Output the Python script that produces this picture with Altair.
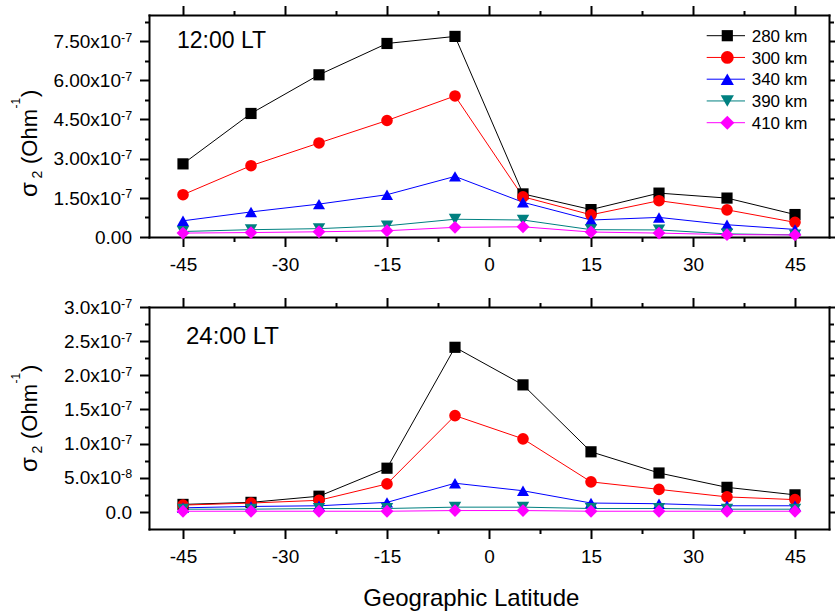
import altair as alt
import pandas as pd

# ---------------- data (sigma_2 values in units of 1e-7 Ohm^-1) ----------------
latitude = [-45, -35, -25, -15, -5, 5, 15, 25, 35, 45]
altitudes = ["280 km", "300 km", "340 km", "390 km", "410 km"]

noon_280 = [2.80, 4.73, 6.21, 7.41, 7.68, 1.65, 1.05, 1.68, 1.49, 0.86]
noon_300 = [1.62, 2.73, 3.60, 4.46, 5.40, 1.54, 0.85, 1.39, 1.04, 0.56]
noon_340 = [0.62, 0.96, 1.26, 1.62, 2.32, 1.33, 0.65, 0.75, 0.47, 0.29]
noon_390 = [0.21, 0.28, 0.32, 0.43, 0.68, 0.65, 0.28, 0.27, 0.12, 0.08]
noon_410 = [0.15, 0.17, 0.20, 0.24, 0.37, 0.39, 0.19, 0.15, 0.09, 0.08]

mid_280 = [0.11, 0.14, 0.23, 0.64, 2.41, 1.86, 0.88, 0.57, 0.36, 0.25]
mid_300 = [0.10, 0.13, 0.17, 0.41, 1.41, 1.07, 0.44, 0.33, 0.22, 0.18]
mid_340 = [0.06, 0.08, 0.09, 0.14, 0.42, 0.31, 0.13, 0.12, 0.09, 0.09]
mid_390 = [0.04, 0.04, 0.05, 0.05, 0.07, 0.07, 0.05, 0.05, 0.04, 0.04]
mid_410 = [0.01, 0.01, 0.01, 0.01, 0.02, 0.02, 0.01, 0.01, 0.01, 0.01]

colors = ["#000000", "#ff0000", "#0000ff", "#008080", "#ff00ff"]
shapes = ["square", "circle", "triangle-up", "triangle-down", "diamond"]
sizes = [125, 165, 175, 175, 200]

x_major = [-45, -30, -15, 0, 15, 30, 45]
x_minor = [-37.5, -22.5, -7.5, 7.5, 22.5, 37.5]

top_major = [0, 1.5e-7, 3.0e-7, 4.5e-7, 6.0e-7, 7.5e-7]
top_minor = [0.75e-7, 2.25e-7, 3.75e-7, 5.25e-7, 6.75e-7, 8.25e-7]
top_mant = ["0.00", "1.50x10", "3.00x10", "4.50x10", "6.00x10", "7.50x10"]
top_exp = ["", "-7", "-7", "-7", "-7", "-7"]

bot_major = [0, 0.5e-7, 1.0e-7, 1.5e-7, 2.0e-7, 2.5e-7, 3.0e-7]
bot_minor = [0.25e-7, 0.75e-7, 1.25e-7, 1.75e-7, 2.25e-7, 2.75e-7]
bot_mant = ["0.0", "5.0x10", "1.0x10", "1.5x10", "2.0x10", "2.5x10", "3.0x10"]
bot_exp = ["", "-8", "-7", "-7", "-7", "-7", "-7"]


def table(cols):
    rows = []
    for name, vals in zip(altitudes, cols):
        for la, v in zip(latitude, vals):
            rows.append({"lat": la, "val": v * 1e-7, "series": name})
    return pd.DataFrame(rows)


noon_df = table([noon_280, noon_300, noon_340, noon_390, noon_410])
mid_df = table([mid_280, mid_300, mid_340, mid_390, mid_410])

FONT = "Liberation Sans"
W, H = 680, 514
XS = alt.Scale(domain=[-50, 50], nice=False, zero=False)
YT = alt.Scale(domain=[0, 8.5e-7], range=[222, 0], nice=False, zero=False)
YB = alt.Scale(domain=[-0.25e-7, 3.0e-7], range=[514, 292], nice=False, zero=False)
color_scale = alt.Scale(domain=altitudes, range=colors)
shape_scale = alt.Scale(domain=altitudes, range=shapes)
size_scale = alt.Scale(domain=altitudes, range=sizes)

one = pd.DataFrame({"k": [0]})


def axis(orient, values, size, offset=0, labels=False, domain=True):
    kw = dict(orient=orient, values=values, tickSize=size, tickWidth=2,
              tickColor="black", domain=domain, grid=False, title=None,
              offset=offset, labels=labels)
    if domain:
        kw.update(domainColor="black", domainWidth=2, domainCap="square")
    if labels:
        kw.update(labelFont=FONT, labelFontSize=19, labelColor="black",
                  labelPadding=9, labelExpr="'' + datum.value",
                  labelOverlap=False, labelFlush=False)
    return alt.Axis(**kw)


def label(text, x, y, size, angle=0, align="left", baseline="alphabetic"):
    kw = dict(text=text, align=align, baseline=baseline, font=FONT,
              fontSize=size, color="black")
    if angle:
        kw["angle"] = angle
    return alt.Chart(one).mark_text(**kw).encode(x=alt.value(x), y=alt.value(y))


def y_title(s):
    bx = -112.5
    return [
        label("σ", bx, s, 24, angle=270),
        label("2", bx + 5, s - 18.5, 14, angle=270),
        label("(Ohm", bx, s - 33, 22, angle=270),
        label("-1", bx - 16.5, s - 88.5, 12, angle=270),
        label(")", bx, s - 100, 22, angle=270),
    ]


def panel(df, ys, ymaj, ymin, mant, exps, xoff_bottom, xoff_top):
    base = alt.Chart(df)
    col = alt.Color("series:N", scale=color_scale, legend=None)

    def ex(ax):
        return alt.X("lat:Q", scale=XS, axis=ax)

    def ey(ax):
        return alt.Y("val:Q", scale=ys, axis=ax)

    lines = base.mark_line(strokeWidth=1).encode(
        x=ex(axis("bottom", x_major, 9.5, offset=xoff_bottom, labels=True)),
        y=ey(axis("left", ymaj, 9.5)),
        color=col,
    )
    pts = base.mark_point(filled=True, opacity=1).encode(
        x=ex(axis("bottom", x_minor, 4.5, offset=xoff_bottom, domain=False)),
        y=ey(axis("left", ymin, 4.5, domain=False)),
        color=col,
        shape=alt.Shape("series:N", scale=shape_scale, legend=None),
        size=alt.Size("series:N", scale=size_scale, legend=None),
    )
    ghost1 = base.mark_point(opacity=0).encode(
        x=ex(axis("top", x_major, 9.5, offset=xoff_top)),
        y=ey(axis("right", ymaj, 9.5)),
    )
    ghost2 = base.mark_point(opacity=0).encode(
        x=ex(axis("top", x_minor, 4.5, offset=xoff_top, domain=False)),
        y=ey(axis("right", ymin, 4.5, domain=False)),
    )

    lab = alt.Chart(pd.DataFrame({"v": ymaj, "mant": mant, "exp": exps}))
    yv = alt.Y("v:Q", scale=ys, axis=None)
    mant_t = lab.transform_filter("datum.exp != ''").mark_text(
        align="right", baseline="alphabetic", dy=6.7, font=FONT, fontSize=19,
        color="black").encode(x=alt.value(-28), y=yv, text="mant:N")
    exp_t = lab.transform_filter("datum.exp != ''").mark_text(
        align="left", baseline="alphabetic", dy=0.5, font=FONT, fontSize=12.5,
        color="black").encode(x=alt.value(-28), y=yv, text="exp:N")
    zero_t = lab.transform_filter("datum.exp == ''").mark_text(
        align="right", baseline="alphabetic", dy=6.7, font=FONT, fontSize=19,
        color="black").encode(x=alt.value(-17), y=yv, text="mant:N")

    return alt.layer(lines, pts, ghost1, ghost2, mant_t, exp_t, zero_t).resolve_axis(
        x="independent", y="independent")


top = panel(noon_df, YT, top_major, top_minor, top_mant, top_exp, 222 - H, 0)
bot = panel(mid_df, YB, bot_major, bot_minor, bot_mant, bot_exp, 0, -292)

# legend (manual, inside the upper panel)
legend_layers = []
for i, (name, c, s, sz) in enumerate(zip(altitudes, colors, shapes, sizes)):
    yy = 20.7 + i * 21.75
    legend_layers.append(alt.Chart(one).mark_rule(color=c, strokeWidth=1).encode(
        x=alt.value(557.7), x2=alt.value(596), y=alt.value(yy)))
    legend_layers.append(alt.Chart(one).mark_point(
        shape=s, filled=True, size=sz, color=c, opacity=1).encode(
        x=alt.value(578.3), y=alt.value(yy)))
    legend_layers.append(label(name, 602.7, yy + 6.2, 17))

annotations = [
    label("12:00 LT", 28, 33.3, 23),
    label("24:00 LT", 37, 329, 24),
    label("Geographic Latitude", 322.3, 591, 24, align="center"),
] + y_title(182) + y_title(457)

chart = alt.layer(top, bot, *legend_layers, *annotations).resolve_scale(
    y="independent").resolve_axis(x="independent", y="independent").properties(
    width=W, height=H,
    autosize=alt.AutoSizeParams(type="none"),
    padding={"left": 149, "top": 15, "right": 6, "bottom": 82},
    background="white",
).configure_view(stroke=None)

chart.save("out.html", embed_options={"renderer": "svg", "actions": False})
